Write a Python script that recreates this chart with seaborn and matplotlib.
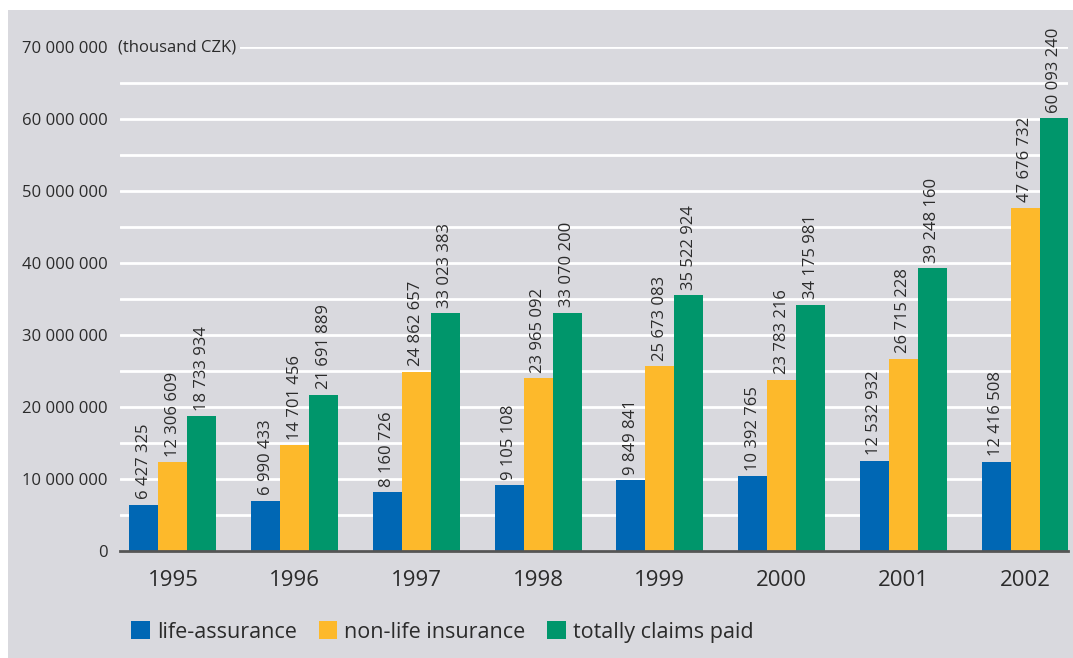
import matplotlib
matplotlib.use("Agg")
import matplotlib.pyplot as plt
from matplotlib.patches import Rectangle
from matplotlib.ticker import MultipleLocator, FuncFormatter
import seaborn as sns
import pandas as pd

years = ["1995", "1996", "1997", "1998", "1999", "2000", "2001", "2002"]
series_names = ["life-assurance", "non-life insurance", "totally claims paid"]
life = [6427325, 6990433, 8160726, 9105108, 9849841, 10392765, 12532932, 12416508]
nonlife = [12306609, 14701456, 24862657, 23965092, 25673083, 23783216, 26715228, 47676732]
total = [18733934, 21691889, 33023383, 33070200, 35522924, 34175981, 39248160, 60093240]
colors = ["#0067b4", "#fdb92b", "#00966b"]
unit_label = "(thousand CZK)"

BG = "#d9d9de"
TXT = "#2b2b2b"

sns.set_theme(style="white")
plt.rcParams["font.family"] = ["Open Sans", "DejaVu Sans"]

rows = []
for name, vals in zip(series_names, [life, nonlife, total]):
    for y, v in zip(years, vals):
        rows.append({"year": y, "series": name, "value": v})
df = pd.DataFrame(rows)

W, H = 1073, 658
fig = plt.figure(figsize=(W / 100, H / 100), dpi=100, facecolor="white")
fig.patches.append(Rectangle((8 / W, 0), 1 - 8 / W, (H - 10) / H,
                             transform=fig.transFigure, facecolor=BG,
                             edgecolor="none", zorder=-10))
ax = fig.add_axes([120 / W, 107 / H, (1068 - 120) / W, (551 - 47) / H])
ax.set_facecolor(BG)

sns.barplot(data=df, x="year", y="value", hue="series", hue_order=series_names,
            palette=colors, width=0.715, gap=0, saturation=1, ax=ax,
            legend=True, zorder=3, edgecolor="none", linewidth=0)

fmt = lambda v: f"{int(v):,}".replace(",", " ")
for cont in ax.containers:
    ax.bar_label(cont, labels=[fmt(b.get_height()) for b in cont],
                 rotation=90, padding=4, fontsize=12, color=TXT)

ax.set_ylim(0, 70000000)
ax.set_xlim(-0.435, 7.353)
ax.yaxis.set_major_locator(MultipleLocator(10000000))
ax.yaxis.set_minor_locator(MultipleLocator(5000000))
ax.yaxis.set_major_formatter(FuncFormatter(lambda v, p: fmt(v)))
ax.grid(True, which="both", axis="y", color="white", linewidth=2, zorder=0)
ax.set_axisbelow(True)
for s in ["top", "right", "left"]:
    ax.spines[s].set_visible(False)
ax.spines["bottom"].set_color("#555555")
ax.spines["bottom"].set_linewidth(2)
ax.spines["bottom"].set_zorder(5)
ax.tick_params(axis="y", length=0, pad=9, labelsize=12, labelcolor=TXT)
ax.tick_params(axis="x", length=0, pad=14, labelsize=16, labelcolor=TXT)
ax.set_xlabel("")
ax.set_ylabel("")

# unit label next to top tick label, covering the start of the top gridline
ax.text(118 / W, 1 - 47 / H, unit_label, transform=fig.transFigure,
        ha="left", va="center", fontsize=12, color=TXT, zorder=10,
        bbox=dict(facecolor=BG, edgecolor="none", pad=3))

ax.get_legend().remove()
handles = [Rectangle((0, 0), 1, 1, facecolor=c, edgecolor="none") for c in colors]
fig.legend(handles, series_names, loc="center left",
           bbox_to_anchor=(112 / W, 1 - 632 / H), ncol=3, frameon=False,
           fontsize=15.5, handlelength=0.85, handleheight=0.85, handletextpad=0.35,
           columnspacing=1.0, labelcolor=TXT)

fig.savefig("out.png", dpi=100, facecolor="white")
